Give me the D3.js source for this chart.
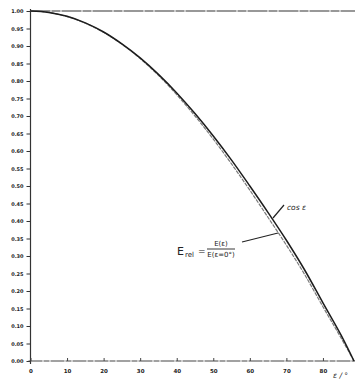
<!DOCTYPE html>
<html>
<head>
<meta charset="utf-8">
<script src="https://cdn.jsdelivr.net/npm/d3@7"></script>
<style>
  body { margin: 0; background: #fff; }
  svg { display: block; }
  .tick text { font-family: "DejaVu Sans", sans-serif; font-weight: bold; }
</style>
</head>
<body>
<div id="chart"></div>
<script>
// angle in degrees
const angles = [0, 5, 10, 15, 20, 25, 30, 35, 40, 45, 50, 55, 60, 65, 70, 75, 80, 85, 88.5];
const cosValues = [1.000, 0.996, 0.985, 0.966, 0.940, 0.906, 0.866, 0.819, 0.766, 0.707, 0.643, 0.574, 0.500, 0.424, 0.345, 0.260, 0.166, 0.073, 0.0];
const erelValues = [1.000, 0.996, 0.984, 0.965, 0.939, 0.905, 0.864, 0.816, 0.761, 0.700, 0.634, 0.563, 0.488, 0.410, 0.331, 0.247, 0.155, 0.065, 0.0];
const yTicks = d3.range(0, 21).map(i => i * 0.05);
const xTicks = [0, 10, 20, 30, 40, 50, 60, 70, 80];

const width = 355, height = 380;

const svg = d3.select('#chart')
  .append('svg')
  .attr('width', width)
  .attr('height', height);

const x = d3.scaleLinear().domain([0, 90]).range([30.5, 359.5]);
const y = d3.scaleLinear().domain([0, 1]).range([361, 11]);

// y axis
const yAxis = svg.append('g')
  .attr('transform', `translate(${x(0)},0)`)
  .call(d3.axisLeft(y).tickValues(yTicks).tickFormat(d3.format('.2f')).tickSize(4).tickPadding(3));
yAxis.select('.domain').attr('d', `M0,${y(1) - 2}V${y(0) + 3}`).attr('stroke', '#333').attr('stroke-width', 1.2);
yAxis.selectAll('.tick line').attr('stroke', '#333');
yAxis.selectAll('.tick text').attr('font-size', 5).attr('fill', '#222');

// x axis, ticks point upward
const xAxis = svg.append('g')
  .attr('transform', `translate(0,${y(0)})`)
  .call(d3.axisBottom(x).tickValues(xTicks).tickFormat(d3.format('d')).tickSizeInner(-3).tickSizeOuter(0).tickPadding(8));
xAxis.select('.domain').attr('d', `M${x(0) - 2},0H${width}`).attr('stroke', '#444').attr('stroke-width', 1.1).attr('stroke-dasharray', '14,1,6,1');
xAxis.selectAll('.tick line').attr('stroke', '#444');
xAxis.selectAll('.tick text').attr('font-size', 5.5).attr('fill', '#222');

// reference line at 1.00
svg.append('line')
  .attr('x1', x(0)).attr('x2', width)
  .attr('y1', y(1)).attr('y2', y(1))
  .attr('stroke', '#333').attr('stroke-width', 1.1)
  .attr('stroke-dasharray', '20,1,9,1');

const line = d3.line()
  .curve(d3.curveMonotoneX)
  .x(d => x(d[0]))
  .y(d => y(d[1]));

svg.append('path')
  .datum(angles.map((a, i) => [a, erelValues[i]]))
  .attr('fill', 'none')
  .attr('stroke', '#7a7a7a')
  .attr('stroke-width', 1.2)
  .attr('stroke-dasharray', '4,1')
  .attr('d', line);

svg.append('path')
  .datum(angles.map((a, i) => [a, cosValues[i]]))
  .attr('fill', 'none')
  .attr('stroke', '#1c1c1c')
  .attr('stroke-width', 1.5)
  .attr('d', line);

// annotations
const serif = '"DejaVu Sans", sans-serif';

svg.append('line')
  .attr('x1', 273).attr('y1', 218).attr('x2', 284).attr('y2', 205)
  .attr('stroke', '#222').attr('stroke-width', 1.2);
svg.append('text')
  .attr('x', 287).attr('y', 210)
  .attr('font-family', serif).attr('font-style', 'italic')
  .attr('font-size', 7.5).attr('fill', '#222')
  .text('cos ε');

svg.append('line')
  .attr('x1', 242).attr('y1', 242).attr('x2', 278).attr('y2', 233)
  .attr('stroke', '#222').attr('stroke-width', 1.2);

const lbl = svg.append('g').attr('font-family', serif).attr('fill', '#222');
lbl.append('text').attr('x', 177).attr('y', 255).attr('font-size', 11).text('E');
lbl.append('text').attr('x', 185).attr('y', 257).attr('font-size', 7).text('rel');
lbl.append('text').attr('x', 198).attr('y', 254).attr('font-size', 9).text('=');
lbl.append('text').attr('x', 221).attr('y', 246).attr('font-size', 7).attr('text-anchor', 'middle').text('E(ε)');
lbl.append('line').attr('x1', 207).attr('x2', 235).attr('y1', 249).attr('y2', 249).attr('stroke', '#222').attr('stroke-width', 0.9);
lbl.append('text').attr('x', 221).attr('y', 257).attr('font-size', 7).attr('text-anchor', 'middle').text('E(ε=0°)');

svg.append('text')
  .attr('x', 333).attr('y', 378)
  .attr('font-family', serif).attr('font-style', 'italic')
  .attr('font-size', 7.5).attr('fill', '#222')
  .text('ε / °');
</script>
</body>
</html>
